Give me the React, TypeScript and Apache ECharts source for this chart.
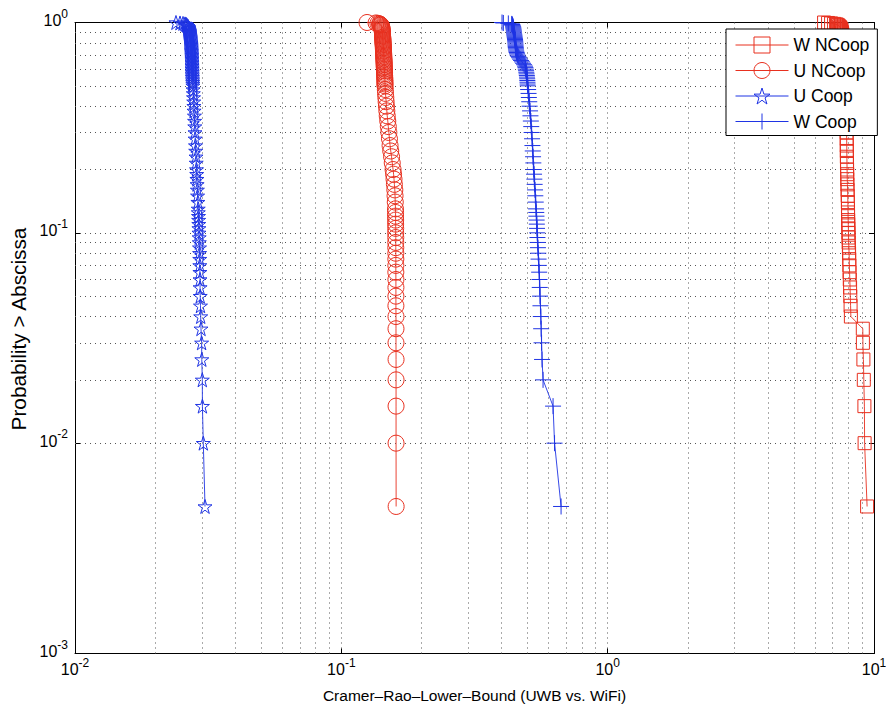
import React, { useEffect, useRef } from "react";
import * as echarts from "echarts";

// CCDF levels (probability that CRLB exceeds abscissa)
const prob = [
  1, 0.995, 0.99, 0.985, 0.98, 0.975, 0.97, 0.96, 0.95, 0.94,
  0.93, 0.92, 0.91, 0.9, 0.89, 0.88, 0.87, 0.86, 0.85, 0.84,
  0.83, 0.82, 0.81, 0.8, 0.79, 0.78, 0.77, 0.76, 0.75, 0.74,
  0.73, 0.72, 0.71, 0.7, 0.69, 0.68, 0.67, 0.66, 0.65, 0.64,
  0.63, 0.62, 0.61, 0.6, 0.59, 0.58, 0.57, 0.56, 0.55, 0.54,
  0.53, 0.52, 0.51, 0.5,
  0.48, 0.46, 0.44, 0.42, 0.4, 0.38, 0.36, 0.34, 0.32, 0.3,
  0.28, 0.26, 0.245, 0.23, 0.215, 0.2, 0.19, 0.18, 0.17, 0.16,
  0.15, 0.14, 0.13, 0.125, 0.12, 0.115, 0.11, 0.105, 0.1, 0.095,
  0.09, 0.085, 0.08, 0.075, 0.07, 0.065, 0.06, 0.055, 0.05, 0.045,
  0.04, 0.035, 0.03, 0.025, 0.02, 0.015, 0.01, 0.005,
];

const wNCoop = [
  6.495, 6.724, 6.9, 7.082, 7.205, 7.27, 7.33, 7.394, 7.458, 7.492,
  7.523, 7.54, 7.555, 7.572, 7.588, 7.599, 7.61, 7.621, 7.632, 7.643,
  7.654, 7.661, 7.667, 7.674, 7.681, 7.687, 7.694, 7.701, 7.707, 7.714,
  7.721, 7.727, 7.734, 7.741, 7.747, 7.754, 7.761, 7.767, 7.774, 7.779,
  7.783, 7.788, 7.792, 7.797, 7.801, 7.806, 7.81, 7.815, 7.819, 7.824,
  7.828, 7.833, 7.837, 7.842,
  7.849, 7.855, 7.862, 7.865, 7.869, 7.876, 7.879, 7.883, 7.889, 7.892,
  7.896, 7.903, 7.906, 7.91, 7.917, 7.924, 7.931, 7.937, 7.947, 7.958,
  7.968, 7.979, 7.986, 7.989, 7.992, 7.999, 8.006, 8.013, 8.02, 8.027,
  8.035, 8.049, 8.062, 8.073, 8.083, 8.097, 8.111, 8.132, 8.146, 8.167,
  8.188, 9.077, 9.085, 9.124, 9.156, 9.203, 9.219, 9.421,
];

const uNCoop = [
  0.1249, 0.135, 0.1373, 0.1391, 0.1397, 0.1404, 0.141, 0.1416, 0.1419, 0.1421,
  0.1422, 0.1423, 0.1424, 0.1426, 0.1427, 0.1428, 0.1428, 0.1429, 0.143, 0.1431,
  0.1432, 0.1433, 0.1433, 0.1434, 0.1435, 0.1436, 0.1437, 0.1438, 0.1438, 0.1439,
  0.144, 0.1441, 0.1442, 0.1443, 0.1443, 0.1444, 0.1445, 0.1446, 0.1447, 0.1448,
  0.1448, 0.1449, 0.145, 0.1451, 0.1452, 0.1453, 0.1453, 0.1454, 0.1455, 0.1456,
  0.1457, 0.1458, 0.1458, 0.1459,
  0.1463, 0.1465, 0.1469, 0.1473, 0.1477, 0.1482, 0.1487, 0.1494, 0.1501, 0.1508,
  0.1516, 0.1524, 0.1533, 0.1544, 0.1553, 0.1564, 0.1571, 0.1577, 0.1582, 0.1588,
  0.1591, 0.1594, 0.1597, 0.1598, 0.1598, 0.1599, 0.1599, 0.16, 0.16, 0.1601,
  0.1601, 0.1601, 0.1602, 0.1602, 0.1602, 0.1602, 0.1603, 0.1603, 0.1603, 0.1603,
  0.1604, 0.1604, 0.1604, 0.1605, 0.1605, 0.1605, 0.1605, 0.1606,
];

const uCoop = [
  0.02394, 0.02479, 0.02544, 0.02588, 0.02611, 0.02622, 0.02633, 0.02656, 0.02668, 0.02674,
  0.02679, 0.02685, 0.02691, 0.02695, 0.02698, 0.02701, 0.02704, 0.02707, 0.0271, 0.02714,
  0.02717, 0.0272, 0.02723, 0.02726, 0.02728, 0.0273, 0.02731, 0.02733, 0.02735, 0.02736,
  0.02738, 0.02741, 0.02743, 0.02744, 0.02746, 0.02747, 0.02748, 0.02749, 0.0275, 0.02751,
  0.02751, 0.02752, 0.02753, 0.02753, 0.02754, 0.02755, 0.02756, 0.02757, 0.02759, 0.02762,
  0.02764, 0.02766, 0.02769, 0.02771,
  0.02776, 0.02781, 0.02786, 0.02791, 0.02795, 0.028, 0.02808, 0.02812, 0.02817, 0.02822,
  0.02826, 0.02834, 0.02839, 0.02847, 0.02852, 0.02859, 0.02864, 0.02869, 0.02874, 0.02881,
  0.02886, 0.02894, 0.02902, 0.02903, 0.02909, 0.02912, 0.02916, 0.02919, 0.02921, 0.02926,
  0.02929, 0.02934, 0.02937, 0.0294, 0.02942, 0.02944, 0.02947, 0.02949, 0.02952, 0.02959,
  0.02965, 0.02972, 0.02988, 0.02993, 0.03006, 0.03009, 0.03032, 0.03077,
];

const wCoop = [
  0.4012, 0.4058, 0.4237, 0.4364, 0.4375, 0.4385, 0.4394, 0.4413, 0.442, 0.4425,
  0.4432, 0.4438, 0.4444, 0.4448, 0.4451, 0.4458, 0.4464, 0.4471, 0.4477, 0.4484,
  0.449, 0.4494, 0.4498, 0.4502, 0.4506, 0.451, 0.4513, 0.4518, 0.4524, 0.4529,
  0.454, 0.4553, 0.4568, 0.459, 0.4618, 0.4648, 0.4688, 0.473, 0.477, 0.4812,
  0.4855, 0.4895, 0.4912, 0.4926, 0.4938, 0.495, 0.4961, 0.4972, 0.498, 0.4987,
  0.4994, 0.4999, 0.5005, 0.5011,
  0.5028, 0.5046, 0.5059, 0.5076, 0.5094, 0.5112, 0.513, 0.5147, 0.5165, 0.5183,
  0.5201, 0.5219, 0.5233, 0.5246, 0.526, 0.5278, 0.5292, 0.5305, 0.5319, 0.5337,
  0.5351, 0.537, 0.5384, 0.5394, 0.5403, 0.5412, 0.5421, 0.543, 0.544, 0.5449,
  0.5459, 0.5473, 0.5488, 0.5502, 0.5516, 0.5531, 0.5545, 0.5559, 0.5574, 0.5593,
  0.5612, 0.5627, 0.5647, 0.5671, 0.572, 0.6237, 0.6318, 0.6684,
];

const seriesNames = ["W NCoop", "U NCoop", "U Coop", "W Coop"];

// axis decades and minor grid multipliers
const xDecades = [0.01, 0.1, 1];
const yDecades = [0.001, 0.01, 0.1];
const minorMultipliers = [2, 3, 4, 5, 6, 7, 8, 9];

const RED = "#e8301f";
const BLUE = "#1f34e4";
const GRID_COLOR = "#555";
const FONT = "'Liberation Sans', Arial, Helvetica, sans-serif";

const STAR =
  "path://M0,-1L0.2245,-0.309L0.951,-0.309L0.363,0.118L0.588,0.809L0,0.382L-0.588,0.809L-0.363,0.118L-0.951,-0.309L-0.2245,-0.309Z";
const PLUS = "path://M0,-1L0,1M-1,0L1,0";

function supLabel(v: number) {
  const e = Math.round(Math.log10(v));
  return `{b|10}{s|${e}}`;
}

const labelRich = {
  b: { fontSize: 16, lineHeight: 16, verticalAlign: "bottom", fontFamily: FONT, color: "#000" },
  s: { fontSize: 12, lineHeight: 12, padding: [0, 0, 9, 0], verticalAlign: "bottom", fontFamily: FONT, color: "#000" },
};

export default function App() {
  const ref = useRef<HTMLDivElement>(null);

  useEffect(() => {
    if (!ref.current) return;
    const chart = echarts.init(ref.current, undefined, { renderer: "svg" });

    const minorX: number[] = [];
    xDecades.forEach((d) => minorMultipliers.forEach((m) => minorX.push(d * m)));
    const minorY: number[] = [];
    yDecades.forEach((d) => minorMultipliers.forEach((m) => minorY.push(d * m)));

    const mk = (vals: number[]) => prob.map((p, i) => [vals[i], p]);

    const lineSeries = (
      name: string,
      vals: number[],
      color: string,
      symbol: string,
      size: number
    ) => ({
      type: "line",
      name,
      data: mk(vals),
      xAxisIndex: 0,
      yAxisIndex: 0,
      symbol,
      symbolSize: size,
      showSymbol: true,
      clip: false,
      z: 3,
      lineStyle: { color, width: 0.9 },
      itemStyle: { color: "rgba(0,0,0,0)", borderColor: color, borderWidth: 1 },
      emphasis: { disabled: true },
    });

    const axisCommon = {
      type: "log",
      logBase: 10,
      axisLine: { show: true, onZero: false, lineStyle: { color: "#000", width: 1 } },
      axisTick: { show: true, inside: true, length: 5, lineStyle: { color: "#000", width: 1 } },
    };

    const option: any = {
      animation: false,
      backgroundColor: "#fff",
      textStyle: { fontFamily: FONT, color: "#000" },
      grid: { left: 75, right: 12, top: 22.5, bottom: 56.5, outerBoundsMode: "none", containLabel: false },
      legend: {
        data: seriesNames,
        orient: "vertical",
        left: 726,
        top: 29,
        padding: [6, 8, 4, 9],
        itemWidth: 53,
        itemHeight: 20,
        itemGap: 5.5,
        selectedMode: false,
        backgroundColor: "#fff",
        borderColor: "#000",
        borderWidth: 1,
        borderRadius: 0,
        itemStyle: { borderWidth: 1 },
        lineStyle: { width: 1 },
        textStyle: { fontSize: 17.5, lineHeight: 20, fontFamily: FONT, color: "#000" },
      },
      xAxis: [
        {
          ...axisCommon,
          min: 0.01,
          max: 10,
          position: "bottom",
          axisLabel: { show: true, margin: 8, formatter: supLabel, rich: labelRich },
          splitLine: { show: true, lineStyle: { color: GRID_COLOR, width: 1, type: [1, 4] } },
          name: "Cramer\u2013Rao\u2013Lower\u2013Bound (UWB vs. WiFi)",
          nameLocation: "middle",
          nameGap: 34,
          nameTextStyle: { fontSize: 15.5, fontFamily: FONT, color: "#000" },
        },
        {
          ...axisCommon,
          min: 0.01,
          max: 10,
          position: "top",
          axisLabel: { show: false },
          splitLine: { show: false },
        },
      ],
      yAxis: [
        {
          ...axisCommon,
          min: 0.001,
          max: 1,
          position: "left",
          axisLabel: { show: true, margin: 7, padding: [0, 0, 4, 0], formatter: supLabel, rich: labelRich },
          splitLine: { show: true, lineStyle: { color: GRID_COLOR, width: 1, type: [1, 4] } },
          name: "Probability > Abscissa",
          nameLocation: "middle",
          nameGap: 45,
          nameTextStyle: { fontSize: 20.8, fontFamily: FONT, color: "#000", padding: [0, 0, 0, 18] },
        },
        {
          ...axisCommon,
          min: 0.001,
          max: 1,
          position: "right",
          axisLabel: { show: false },
          splitLine: { show: false },
        },
      ],
      series: [
        {
          type: "line",
          name: "grid",
          data: [],
          xAxisIndex: 0,
          yAxisIndex: 0,
          z: 1,
          markLine: {
            silent: true,
            z: 1,
            symbol: ["none", "none"],
            label: { show: false },
            lineStyle: { color: GRID_COLOR, width: 1, type: [1, 4] },
            emphasis: { disabled: true },
            data: [
              ...minorX.map((v) => ({ xAxis: v })),
              ...minorY.map((v) => ({ yAxis: v })),
            ],
          },
        },
        lineSeries(seriesNames[0], wNCoop, RED, "rect", 13),
        lineSeries(seriesNames[1], uNCoop, RED, "circle", 16),
        lineSeries(seriesNames[2], uCoop, BLUE, STAR, 14),
        lineSeries(seriesNames[3], wCoop, BLUE, PLUS, 16),
      ],
    };

    chart.setOption(option);
    return () => chart.dispose();
  }, []);

  return <div ref={ref} style={{ width: 886, height: 710, position: "absolute", left: 0, top: 0 }} />;
}
